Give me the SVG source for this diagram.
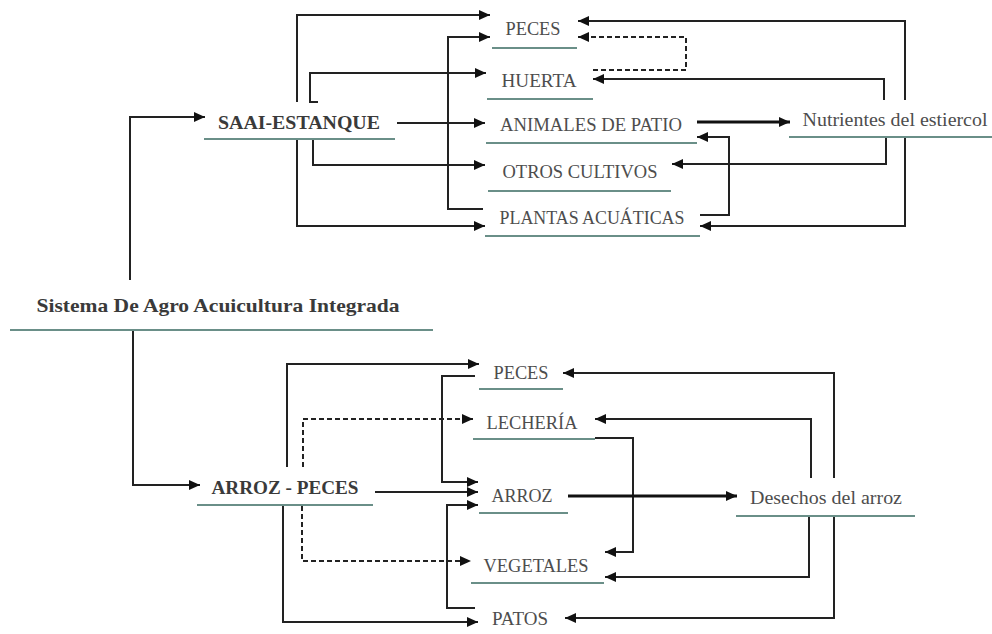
<svg xmlns="http://www.w3.org/2000/svg" width="992" height="634" viewBox="0 0 992 634">
<style>
.bg{fill:#ffffff}
.lbl{font-family:"Liberation Serif","Times New Roman",serif;font-size:19px;fill:#4d4d4d;text-anchor:middle}
.hd{font-family:"Liberation Serif","Times New Roman",serif;font-size:19.5px;font-weight:bold;fill:#3a3a3a;text-anchor:middle}
.sm{font-family:"Liberation Serif","Times New Roman",serif;font-size:19.5px;fill:#4d4d4d;text-anchor:middle}
.ul{stroke:#6a8f88;stroke-width:2;fill:none}
.c{stroke:#222;stroke-width:2;fill:none;marker-end:url(#ah)}
.d{stroke:#222;stroke-width:2;fill:none;stroke-dasharray:5,3;marker-end:url(#ah)}
.t{stroke:#111;stroke-width:3;fill:none;marker-end:url(#ah)}
</style>
<defs>
<marker id="ah" markerUnits="userSpaceOnUse" markerWidth="11" markerHeight="10" refX="11" refY="5" orient="auto">
<path d="M0,0 L11,5 L0,10 z" fill="#111"/>
</marker>
</defs>
<rect class="bg" x="0" y="0" width="992" height="634"/>
<g id="connectors">
<path class="c" d="M130,280 V117 H205"/>
<path class="c" d="M297,102 V15 H490"/>
<path class="c" d="M318,102 H310 V73 H486"/>
<path class="c" d="M397,123 H485"/>
<path class="c" d="M313,139 V165 H485"/>
<path class="c" d="M297,139 V226 H485"/>
<path class="c" d="M483,209 H448 V37 H490"/>
<path class="c" d="M905,100 V21 H578"/>
<path class="d" d="M593,70 H686 V37 H578"/>
<path class="c" d="M884,100 V79 H593"/>
<path class="t" d="M697,122 H790"/>
<path class="c" d="M886,137 V164 H672"/>
<path class="c" d="M700,215 H729 V137 H697"/>
<path class="c" d="M905,137 V226 H700"/>
<path class="c" d="M133,330 V485 H200"/>
<path class="c" d="M287,467 V364 H479"/>
<path class="d" d="M303,467 V419 H473"/>
<path class="c" d="M375,492 H478"/>
<path class="d" d="M302,506 V561 H471"/>
<path class="c" d="M283,506 V622 H478"/>
<path class="c" d="M475,376 H442 V482 H478"/>
<path class="c" d="M475,608 H447 V505 H478"/>
<path class="c" d="M595,438 H633 V552 H605"/>
<path class="t" d="M568,496 H737"/>
<path class="c" d="M834,478 V373 H563"/>
<path class="c" d="M811,478 V419 H595"/>
<path class="c" d="M809,516 V577 H605"/>
<path class="c" d="M834,516 V618 H565"/>
</g>
<g id="sistema"><text class="hd" x="218" y="312" textLength="363" lengthAdjust="spacingAndGlyphs">Sistema De Agro Acuicultura Integrada</text><line class="ul" x1="10" y1="330" x2="433" y2="330"/></g>
<g id="saai"><text class="hd" x="299" y="129" textLength="162" lengthAdjust="spacingAndGlyphs">SAAI-ESTANQUE</text><line class="ul" x1="204" y1="139" x2="395" y2="139"/></g>
<g id="t-peces"><text class="lbl" x="533" y="35" textLength="55" lengthAdjust="spacingAndGlyphs">PECES</text><line class="ul" x1="492" y1="48" x2="577" y2="48"/></g>
<g id="t-huerta"><text class="lbl" x="539" y="87" textLength="75" lengthAdjust="spacingAndGlyphs">HUERTA</text><line class="ul" x1="487" y1="99" x2="593" y2="99"/></g>
<g id="t-animales"><text class="lbl" x="591" y="131" textLength="182" lengthAdjust="spacingAndGlyphs">ANIMALES DE PATIO</text><line class="ul" x1="486" y1="143" x2="697" y2="143"/></g>
<g id="t-otros"><text class="lbl" x="580" y="178" textLength="155" lengthAdjust="spacingAndGlyphs">OTROS CULTIVOS</text><line class="ul" x1="488" y1="191" x2="671" y2="191"/></g>
<g id="t-plantas"><text class="lbl" x="592" y="224" textLength="185" lengthAdjust="spacingAndGlyphs">PLANTAS ACUÁTICAS</text><line class="ul" x1="485" y1="236" x2="700" y2="236"/></g>
<g id="nutrientes"><text class="sm" x="895" y="126" textLength="185" lengthAdjust="spacingAndGlyphs">Nutrientes del estiercol</text><line class="ul" x1="789" y1="137" x2="992" y2="137"/></g>
<g id="arrozpeces"><text class="hd" x="285" y="494" textLength="147" lengthAdjust="spacingAndGlyphs">ARROZ - PECES</text><line class="ul" x1="197" y1="505" x2="373" y2="505"/></g>
<g id="b-peces"><text class="lbl" x="521" y="379" textLength="55" lengthAdjust="spacingAndGlyphs">PECES</text><line class="ul" x1="479" y1="389" x2="563" y2="389"/></g>
<g id="b-lecheria"><text class="lbl" x="532" y="429" textLength="91" lengthAdjust="spacingAndGlyphs">LECHERÍA</text><line class="ul" x1="473" y1="439" x2="595" y2="439"/></g>
<g id="b-arroz"><text class="lbl" x="522" y="502" textLength="61" lengthAdjust="spacingAndGlyphs">ARROZ</text><line class="ul" x1="479" y1="513" x2="568" y2="513"/></g>
<g id="b-vegetales"><text class="lbl" x="536" y="572" textLength="105" lengthAdjust="spacingAndGlyphs">VEGETALES</text><line class="ul" x1="471" y1="583" x2="604" y2="583"/></g>
<g id="b-patos"><text class="lbl" x="520" y="625" textLength="56" lengthAdjust="spacingAndGlyphs">PATOS</text></g>
<g id="desechos"><text class="sm" x="826" y="504" textLength="152" lengthAdjust="spacingAndGlyphs">Desechos del arroz</text><line class="ul" x1="736" y1="516" x2="915" y2="516"/></g>
</svg>
